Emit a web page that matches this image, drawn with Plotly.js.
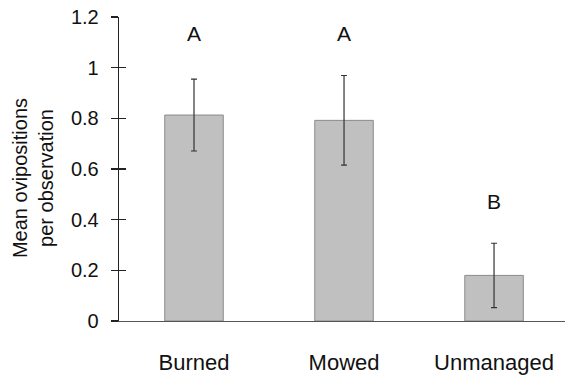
<!DOCTYPE html>
<html>
<head>
<meta charset="utf-8">
<script src="https://cdn.plot.ly/plotly-3.0.1.min.js"></script>
<style>html,body{margin:0;padding:0;background:#fff;}#chart{width:565px;height:376px;}</style>
</head>
<body>
<div id="chart"></div>
<script>
const categories = ["Burned", "Mowed", "Unmanaged"];
const means = [0.813, 0.792, 0.180];
const errors = [0.142, 0.177, 0.127];
const letters = ["A", "A", "B"];
const yTickVals = [0, 0.2, 0.4, 0.6, 0.8, 1, 1.2];
const yTickText = ["0", "0.2", "0.4", "0.6", "0.8", "1", "1.2"];

const FONT = "Liberation Sans, Arial, sans-serif";

const bars = {
  type: "bar",
  x: categories,
  y: means,
  width: 0.39,
  marker: {color: "#c0c0c0", line: {color: "#8a8a8a", width: 1}},
  error_y: {type: "data", array: errors, visible: true, color: "#333", thickness: 1.2, width: 3},
  hoverinfo: "none",
  showlegend: false
};
const dummy = {
  type: "scatter", x: [categories[0]], y: [0], yaxis: "y2",
  mode: "markers", marker: {opacity: 0}, hoverinfo: "none", showlegend: false
};

// letter height: highest error-bar top within the same letter group
const groupTop = {};
letters.forEach((L, i) => {
  const t = means[i] + errors[i];
  groupTop[L] = Math.max(groupTop[L] || 0, t);
});
const annotations = categories.map((c, i) => ({
  x: c, y: groupTop[letters[i]], yref: "y", xref: "x",
  text: letters[i], showarrow: false, yanchor: "middle", yshift: 42,
  font: {family: FONT, size: 21, color: "#111"}
}));
annotations.push({
  xref: "paper", yref: "paper", x: -0.193, y: 0.47, xanchor: "center", yanchor: "middle",
  text: "Mean ovipositions<br>per observation", textangle: -90, showarrow: false,
  font: {family: FONT, size: 20, color: "#111"}
});

const layout = {
  width: 565, height: 376,
  margin: {l: 119, r: 0, t: 17, b: 55},
  paper_bgcolor: "#fff", plot_bgcolor: "#fff",
  xaxis: {
    type: "category", range: [-0.5, 2.473],
    showline: true, linecolor: "#555", linewidth: 1.3,
    ticks: "", showgrid: false, zeroline: false,
    ticklabelstandoff: 21,
    tickfont: {family: FONT, size: 22, color: "#111"}
  },
  yaxis: {
    range: [0, 1.2], tickvals: yTickVals, ticktext: yTickText,
    showline: true, linecolor: "#222", linewidth: 1.3,
    ticks: "outside", ticklen: 7, tickwidth: 1.2, tickcolor: "#222",
    ticklabelstandoff: 8,
    showgrid: false, zeroline: false,
    tickfont: {family: FONT, size: 20, color: "#111"}
  },
  yaxis2: {
    overlaying: "y", side: "left", anchor: "x",
    range: [0, 1.2], tickvals: yTickVals,
    ticks: "inside", ticklen: 7, tickwidth: 1.2, tickcolor: "#222",
    showticklabels: false, showline: false, showgrid: false, zeroline: false
  },
  annotations: annotations
};

Plotly.newPlot("chart", [bars, dummy], layout, {staticPlot: true, displayModeBar: false});
</script>
</body>
</html>
